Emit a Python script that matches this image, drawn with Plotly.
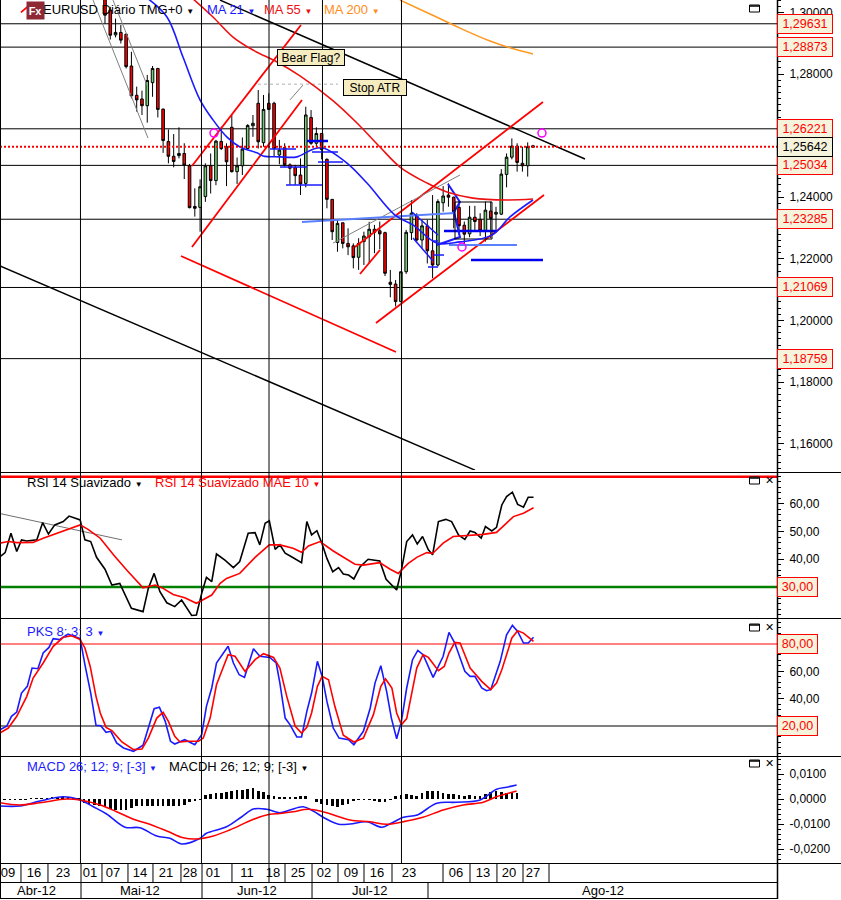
import plotly.graph_objects as go

# ---------- candles (bar index 0 = first visible bar)
opens = [1.3060,1.3008,1.2927,1.2935,1.2929,1.2826,1.2731,1.2719,1.2697,1.2772,1.2818,1.2686,1.2581,1.2533,1.2535,1.2542,1.2502,1.2370,1.2367,1.2402,1.2502,1.2454,1.2581,1.2564,1.2627,1.2483,1.2502,1.2558,1.2632,1.2705,1.2577,1.2705,1.2705,1.2537,1.2561,1.2505,1.2496,1.2472,1.2445,1.2659,1.2575,1.2607,1.2523,1.2393,1.2253,1.2317,1.2250,1.2242,1.2205,1.2256,1.2272,1.2296,1.2291,1.2285,1.2124,1.2118,1.2061,1.2158,1.2285,1.2342,1.2261,1.2307,1.2226,1.2180,1.2382,1.2407,1.2400,1.2367,1.2309,1.2281,1.2335,1.2328,1.2291,1.2355,1.2345,1.2345,1.2474,1.2530,1.2566,1.2510,1.2502,1.2567]
highs = [1.3080,1.3018,1.2980,1.2959,1.2932,1.2872,1.2759,1.2746,1.2797,1.2826,1.2820,1.2688,1.2620,1.2605,1.2627,1.2575,1.2508,1.2429,1.2458,1.2510,1.2542,1.2586,1.2629,1.2575,1.2667,1.2529,1.2594,1.2637,1.2667,1.2748,1.2732,1.2737,1.2710,1.2586,1.2575,1.2510,1.2505,1.2526,1.2694,1.2683,1.2627,1.2607,1.2526,1.2393,1.2328,1.2317,1.2299,1.2250,1.2267,1.2288,1.2320,1.2310,1.2321,1.2288,1.2164,1.2131,1.2158,1.2294,1.2391,1.2348,1.2326,1.2326,1.2407,1.2393,1.2436,1.2445,1.2402,1.2391,1.2321,1.2372,1.2372,1.2348,1.2386,1.2386,1.2369,1.2491,1.2542,1.2591,1.2575,1.2564,1.2578,1.2570]
lows = [1.2964,1.2912,1.2919,1.2899,1.2818,1.2721,1.2678,1.2667,1.2642,1.2726,1.2659,1.2544,1.2510,1.2497,1.2526,1.2459,1.2364,1.2337,1.2288,1.2385,1.2412,1.2439,1.2553,1.2436,1.2480,1.2443,1.2472,1.2555,1.2596,1.2558,1.2564,1.2683,1.2531,1.2507,1.2499,1.2440,1.2440,1.2407,1.2432,1.2570,1.2564,1.2523,1.2364,1.2261,1.2223,1.2234,1.2212,1.2169,1.2164,1.2180,1.2185,1.2218,1.2231,1.2144,1.2075,1.2045,1.2059,1.2151,1.2261,1.2256,1.2234,1.2185,1.2137,1.2175,1.2353,1.2369,1.2299,1.2277,1.2245,1.2270,1.2288,1.2274,1.2256,1.2267,1.2294,1.2342,1.2432,1.2523,1.2483,1.2483,1.2467,1.2561]
closes = [1.2991,1.2926,1.2935,1.2910,1.2824,1.2729,1.2716,1.2697,1.2779,1.2818,1.2685,1.2584,1.2533,1.2516,1.2542,1.2504,1.2366,1.2364,1.2434,1.2502,1.2454,1.2582,1.2558,1.2515,1.2483,1.2502,1.2556,1.2633,1.2640,1.2580,1.2685,1.2685,1.2558,1.2553,1.2505,1.2494,1.2470,1.2443,1.2667,1.2575,1.2607,1.2555,1.2393,1.2288,1.2315,1.2250,1.2239,1.2204,1.2250,1.2274,1.2296,1.2286,1.2281,1.2153,1.2117,1.2061,1.2158,1.2286,1.2348,1.2261,1.2307,1.2226,1.2180,1.2386,1.2404,1.2400,1.2353,1.2307,1.2280,1.2335,1.2321,1.2291,1.2358,1.2331,1.2351,1.2475,1.2530,1.2566,1.2513,1.2502,1.2564,1.2562]
bar_idx = list(range(len(closes)))

ma21_idx = [7.95,11.73,14.76,17.98,20.44,23.09,25.55,28.77,29.9,33.12,36.34,39.36,41.26,45.8,49.58,54.88,58.29,62.83,67.18,73.24,76.65,81]
ma21_val = [1.3047,1.2985,1.2855,1.2716,1.2651,1.2595,1.2563,1.2544,1.2534,1.2531,1.2531,1.2556,1.2560,1.2511,1.2446,1.2342,1.2310,1.2251,1.2255,1.2277,1.2336,1.2391]
ma55_idx = [16.46,20.44,24.22,28.0,32.55,36.9,42.96,47.69,52.04,55.83,60.94,64.72,69.64,76.08,81]
ma55_val = [1.3047,1.2985,1.2920,1.2878,1.2839,1.2794,1.2716,1.2641,1.2563,1.2498,1.2446,1.2417,1.2397,1.2391,1.2394]
ma200_idx = [55.83,61.5,67.18,72.86,76.65,81]
ma200_val = [1.3040,1.2995,1.2949,1.2907,1.2885,1.2865]

black_trend = [(21.76,1.3040,90.84,1.2524),(-19.87,1.2177,70.02,1.1514)]
red_trend = [(16.46,1.25013,37.09,1.29591),(16.46,1.22383,37.28,1.27156),(14.38,1.22091,55.07,1.18974),
             (47.31,1.22383,82.89,1.27091),(48.26,1.21506,52.04,1.22286),(51.29,1.19916,83.08,1.24072),(-15.9,1.3000,-13.8,1.3031)]
gray_trend = [(-2.27,1.3040,8.14,1.2592),(1.51,1.3040,7.95,1.2764),(43.15,1.2251,67.18,1.2472),(35.01,1.2716,37.47,1.2764)]
gray_dash = [(28.96,1.2767,44.1,1.2767)]
blue_thin = [(31.23,1.25565,36.15,1.25565),(33.12,1.24980,38.23,1.24980),(34.25,1.24396,41.07,1.24396),
             (39.18,1.25468,44.1,1.25468),(40.31,1.25143,45.04,1.25143),(58.1,1.23519,63.02,1.22772),
             (58.29,1.22675,62.07,1.21928),(62.07,1.22123,64.16,1.22123),(61.13,1.21734,63.02,1.21734),(61.88,1.22578,63.02,1.22578)]
blue_thick = [(38.23,1.25825,42.2,1.25825),(64.16,1.22902,74.18,1.22902),(69.27,1.21961,82.89,1.21961)]
blue_light = [(37.28,1.23195,66.24,1.23487),(65.1,1.22448,77.97,1.22448)]
flag_idx = [64.91,67.18,66.05,67.18,62.83]
flag_val = [1.24429,1.23844,1.23519,1.22708,1.22448]
box_idx = [66.24,73.24,73.24,66.24,66.24]
box_val = [1.23844,1.23844,1.22643,1.22643,1.23844]
circle_idx = [82.7,67.56,20.63]
circle_val = [1.26084,1.22383,1.26084]

level_prices = [1.29631,1.28873,1.26221,1.25034,1.23285,1.21069,1.18759]
level_text = ["1,29631","1,28873","1,26221","1,25034","1,23285","1,21069","1,18759"]
last_price = 1.25642

rsi_idx = [-19.9,-18.9,-17.8,-16.7,-15.8,-14.8,-12.9,-11.8,-10.7,-9.5,-7.9,-6.8,-4.7,-3.8,-2.7,-1.6,0,1.3,2.8,5,7.2,8.2,9.3,10.4,11.7,13.2,14.5,16.4,17.3,18.3,19.2,20.2,21.1,22.7,24.3,25.5,27.1,28.4,29.3,30.3,31.1,32.2,33.1,34.1,35.3,37.2,38.2,39.1,40.1,41.1,42,43.1,44.2,45.1,46.1,47.1,48.3,49.8,52,53.2,55.2,56.1,57.1,58.2,59.1,60.1,61.2,62,63.1,64.5,65.6,66.9,68.1,69.1,70,71.2,72,73.2,74.1,75.1,76,77.1,78.1,79.2,80.1,81.1]
rsi_val = [40.9,42.4,49.4,42.8,47,46.6,47,53.2,49.1,52.4,53.6,55.6,54.2,47,46.4,40.7,36.4,30.7,31.3,22.3,21.1,29.5,34.9,28.3,24.3,22.9,25.3,19.7,19.9,27.7,33.5,31.9,41.9,39.7,37,39.2,49.4,49.6,45.2,53,53.9,43.6,45.2,42.2,40.9,38.8,53.6,48.8,50.3,45.5,40.3,35.5,37,34.7,34.3,32.9,37.3,40,39.4,32.8,28.9,36.1,46.4,48.8,45.5,48.2,43.4,41.6,53.6,54.4,53.6,48.8,47.2,50.2,49.7,47.6,51.8,50.2,51.5,59.6,62.6,64.2,59.8,58.8,62.4,62.4]
rsi_ma_idx = [-19.9,-18.3,-16.7,-13.6,-11.7,-9.2,-6.6,-4.7,-3.2,-0.9,1.6,4.1,7.2,9.5,11,12.9,15.1,17.3,20.2,21.8,23,25.5,28.4,31.1,33.1,35.6,37.2,38.5,40.7,43.2,47.3,48.9,52,53.9,55.5,57.4,59,60.9,62,64,65.9,69.1,71.6,74.1,77.3,79.2,81.1]
rsi_ma_val = [45.8,46.4,46,46.1,47.6,49.4,51.2,52.4,50.8,47.6,41.6,36.1,29.7,30.7,29.5,27.3,26.1,24.1,27.1,31.3,33.1,34.9,40.7,45.2,45.2,44,42.5,44.8,46.4,43,38.2,37.9,38.8,36.5,34.9,38.5,40.7,42.4,42.1,45.8,48.2,48.5,49,49.7,55.4,56.6,58.6]
rsi_gray_idx = [-19.87,3.2]
rsi_gray_val = [56.5,47.0]

pks_idx = [-19.9,-18.6,-17.7,-16.7,-15.8,-14.7,-13.8,-12.7,-11.7,-10.6,-9.8,-8.6,-7,-4.7,-3.8,-2.7,-1.7,-0.8,0.2,1.1,2.2,3.5,5.4,7.2,8.2,9.3,10.3,11.4,12.4,13.2,15.1,17,18.3,19.2,20.2,21.1,23.3,24.3,25.4,26.4,28.1,29.3,31.2,32.4,33.1,34.1,35,36.3,37.2,38.2,39.1,40.2,41.1,42,43.2,44.3,46.1,47.1,48.9,50.2,51.1,52.2,53.3,54.2,55.2,56.1,57.1,58.2,59.2,60.2,62.1,64,65.1,66.2,68.1,69.1,70,71.3,72.2,73,74.8,76,77.1,78.1,79.2,80.1,81.1]
pks_val = [17.3,19.8,27.1,30.2,44.1,49,62.4,61.9,73.4,77.5,83.9,83.2,87.3,83.9,64.9,44.1,20.5,20.2,15.4,16.1,7.6,3.9,1.5,5.9,18.5,32.7,33.7,23.4,8.8,6.8,10,6.3,13.7,34.4,47.8,66.1,78.3,66.1,57.5,55.6,76.6,71,70.2,66.1,51.4,25.8,21,12,12,30.7,44.1,67.3,56.3,38,18.5,11.2,10,6.3,16.1,33.2,51.4,64.1,45.4,25.8,10.7,23.4,47.8,68.5,75.3,72.2,55.6,71,88.5,80.7,60,56.3,56.3,47.8,45.8,46.6,67.3,86.8,93.6,89.2,80.7,80.7,84.9]
pks_sig_idx = [-19.9,-18.3,-16.7,-14.8,-13.6,-11.7,-9.8,-7.9,-6.3,-4.7,-3.8,-2.8,-1.7,-0.9,0.2,1.3,3.2,5.4,7,8.2,9.8,11,12,13.2,14.2,15.8,17.7,18.6,19.9,21.1,23.3,24.6,26.5,28.4,30,31.9,33.1,34.4,36,37.2,38.2,39.1,40.2,41.1,42.3,43.5,45.1,47.1,48.9,50.8,52.2,53.1,54.3,55.2,56.1,57.1,59,60.2,61.2,63.1,64.2,65.1,66.2,67.2,69.1,71.3,73,74.1,75.1,77,78.1,79.2,81.1]
pks_sig_val = [14.9,18.5,27.1,41.7,55.1,66.1,78.3,84.9,86.1,83.2,77.1,63.6,41.7,29.5,19,16.6,8.3,2.7,3.2,11.2,25.8,30,23.4,12.4,8.3,8.8,8.8,11.2,25.8,50.2,72.2,71,60,68.5,72.9,70.2,62.4,41.7,19.8,14.9,19,29.5,49,56.3,53.9,34.4,13.2,8.3,11.2,28.3,49,54.4,47.8,29.5,21,25.4,62.4,72.2,70.2,60.5,63.6,73.4,81.2,80.7,62.4,52.7,46.6,51.4,61.2,84.4,89.7,88,81.9]

macd_idx = [-19.9,-16.1,-12.3,-7.9,-4.7,-2.2,0.3,3.8,6.6,9.8,12.3,14.5,18,19.2,23,25.9,28.1,30.6,33.1,35,37.5,39.4,41.6,44.2,46.4,49.5,52.4,53.9,56.5,59.1,62.8,66.5,71,74.1,76,77.9]
macd_val = [-.0028,-.0028,-.0008,.0009,-.0004,-.0031,-.0060,-.0113,-.0115,-.0148,-.0157,-.0180,-.0157,-.0137,-.0111,-.0071,-.0040,-.0041,-.0055,-.0044,-.0031,-.0048,-.0077,-.0101,-.0100,-.0091,-.0113,-.0100,-.0073,-.0064,-.0017,-.0013,-.0004,.0039,.0047,.0056]
macd_sig_idx = [-19.9,-16.1,-12.3,-7.3,-4.7,-0.9,2.2,5.4,7.9,11.7,14.8,17.3,20.5,23.6,28.1,31.2,33.1,35.6,38.5,41.6,46.4,50.2,53.3,57.1,60.2,64,67.8,71.6,74.1,77.9]
macd_sig_val = [-.0015,-.0024,-.0015,0,-.0004,-.0024,-.0051,-.0081,-.0097,-.0128,-.0155,-.0160,-.0148,-.0124,-.0081,-.0061,-.0058,-.0051,-.0041,-.0053,-.0084,-.0091,-.0101,-.0088,-.0073,-.0044,-.0024,-.0013,.0009,.0032]
macdh_idx = list(range(-19,-14)) + list(range(-14,79))
macdh_val = [-.0004,-.0004,-.0004,-.0003,-.0003,
             .0003,.0003,.0004,.0004,.0005,.0005,.0005,.0005,.0003,.0002,
             -.0016,-.0020,-.0023,-.0027,-.0033,-.0039,-.0043,-.0043,-.0043,-.0036,-.0029,-.0027,-.0027,-.0029,-.0029,-.0029,-.0027,-.0027,-.0029,-.0025,-.0013,-.0007,-.0003,
             .0016,.0019,.0023,.0025,.0027,.0032,.0035,.0036,.0040,.0043,.0033,.0029,.0016,.0012,.0008,
             .0005,.0009,.0009,.0012,.0012,0,-.0013,-.0021,-.0024,-.0027,-.0031,-.0024,-.0020,-.0005,-.0003,-.0003,-.0004,-.0008,-.0011,-.0011,-.0001,
             .0013,.0016,.0019,.0016,.0013,.0025,.0032,.0033,.0032,.0023,.0021,.0020,.0016,.0013,.0016,.0013,.0013,.0020,.0027,.0032,.0027,.0025,.0027,.0025]

day_idx = [-18.36,-13.44,-7.95,-2.84,1.51,6.62,11.54,16.09,20.44,26.87,31.79,36.53,41.45,46.55,51.48,57.53,66.43,71.54,76.46,81.0]
day_text = ["09","16","23","01","07","14","21","28","01","11","18","25","02","09","16","23","06","13","20","27"]
day_sep_idx = [-15.9,-10.79,-4.54,-0.57,4.35,9.08,14.38,18.36,24.03,31.04,34.07,39.18,44.1,49.02,54.32,63.97,69.08,74.18,79.11,84.03]
month_text = ["Abr-12","Mai-12","Jun-12","Jul-12","Ago-12"]
month_center_idx = [-12.9,6.6,28.7,50.0,94.2]
month_sep_idx = [-4.54,18.36,39.18,61.13]
grid_idx = [-4.64,18.26,31.04,41.16,56.11]

W, H = 841, 900
AX = 777
def fx(px): return px / W
def fy(px): return 1 - px / H

FONT = "Liberation Sans"
fig = go.Figure()

GREEN = "#74cc74"
fig.add_trace(go.Candlestick(x=bar_idx, open=opens, high=highs, low=lows, close=closes, yaxis="y",
    whiskerwidth=0,
    increasing=dict(line=dict(color="black", width=1), fillcolor=GREEN),
    decreasing=dict(line=dict(color="black", width=1), fillcolor="#ff0000")))

def seg(lst, color, width, dash="solid"):
    for a, b, c, d in lst:
        fig.add_trace(go.Scatter(x=[a, c], y=[b, d], mode="lines", yaxis="y",
                                 line=dict(color=color, width=width, dash=dash)))

seg(black_trend, "black", 1.5)
seg(red_trend, "#ff0000", 1.8)
seg(gray_trend, "#808080", 1)
seg(gray_dash, "#b0b0b0", 1, "dot")
seg(blue_light, "#5a80ff", 2)
seg(blue_thin, "#1a1aff", 1.5)
seg(blue_thick, "#0000ee", 2.5)
fig.add_trace(go.Scatter(x=flag_idx, y=flag_val, mode="lines", yaxis="y", line=dict(color="#1a1aff", width=2)))
fig.add_trace(go.Scatter(x=box_idx, y=box_val, mode="lines", yaxis="y", line=dict(color="black", width=1)))
fig.add_trace(go.Scatter(x=ma21_idx, y=ma21_val, mode="lines", yaxis="y", line=dict(color="#1a1aff", width=1.6, shape="spline")))
fig.add_trace(go.Scatter(x=ma55_idx, y=ma55_val, mode="lines", yaxis="y", line=dict(color="#ee1111", width=1.6, shape="spline")))
fig.add_trace(go.Scatter(x=ma200_idx, y=ma200_val, mode="lines", yaxis="y", line=dict(color="#ff9922", width=1.6, shape="spline")))
fig.add_trace(go.Scatter(x=circle_idx, y=circle_val, mode="markers", yaxis="y",
                         marker=dict(symbol="circle-open", size=8, color="#ff00ff", line=dict(width=1.5, color="#ff00ff"))))

fig.add_trace(go.Scatter(x=rsi_gray_idx, y=rsi_gray_val, mode="lines", yaxis="y2", line=dict(color="#707070", width=1)))
fig.add_trace(go.Scatter(x=rsi_idx, y=rsi_val, mode="lines", yaxis="y2", line=dict(color="black", width=1.6)))
fig.add_trace(go.Scatter(x=rsi_ma_idx, y=rsi_ma_val, mode="lines", yaxis="y2", line=dict(color="#ff0000", width=1.6)))
fig.add_trace(go.Scatter(x=pks_idx, y=pks_val, mode="lines", yaxis="y3", line=dict(color="#1a1aff", width=1.6)))
fig.add_trace(go.Scatter(x=pks_sig_idx, y=pks_sig_val, mode="lines", yaxis="y3", line=dict(color="#ff0000", width=1.6)))
fig.add_trace(go.Bar(x=macdh_idx, y=macdh_val, yaxis="y4", width=0.5, marker=dict(color="black", line=dict(width=0))))
fig.add_trace(go.Scatter(x=macd_idx, y=macd_val, mode="lines", yaxis="y4", line=dict(color="#1a1aff", width=1.6, shape="spline")))
fig.add_trace(go.Scatter(x=macd_sig_idx, y=macd_sig_val, mode="lines", yaxis="y4", line=dict(color="#ff0000", width=1.6, shape="spline")))

shapes = []
def hline_paper(px, x0=0, x1=W, w=1, c="black"):
    shapes.append(dict(type="line", xref="paper", yref="paper", x0=fx(x0), x1=fx(x1), y0=fy(px), y1=fy(px),
                       line=dict(color=c, width=w), layer="above"))
for p in level_prices:
    shapes.append(dict(type="line", xref="paper", yref="y", x0=0, x1=fx(AX), y0=p, y1=p, line=dict(color="black", width=1), layer="below"))
shapes.append(dict(type="line", xref="paper", yref="y", x0=0, x1=fx(AX), y0=last_price, y1=last_price,
                   line=dict(color="#ff0000", width=2, dash="2px,2px"), layer="above"))
shapes.append(dict(type="line", xref="paper", yref="y2", x0=0, x1=fx(AX), y0=69.8, y1=69.8, line=dict(color="#ff0000", width=2.5), layer="below"))
shapes.append(dict(type="line", xref="paper", yref="y2", x0=0, x1=fx(AX), y0=30, y1=30, line=dict(color="#008000", width=2.5), layer="below"))
shapes.append(dict(type="line", xref="paper", yref="y3", x0=0, x1=fx(AX), y0=80, y1=80, line=dict(color="#ff0000", width=1), layer="below"))
shapes.append(dict(type="line", xref="paper", yref="y3", x0=0, x1=fx(AX), y0=20, y1=20, line=dict(color="black", width=1), layer="below"))
for g in grid_idx:
    shapes.append(dict(type="line", xref="x", yref="paper", x0=g, x1=g, y0=fy(863), y1=1, line=dict(color="black", width=1), layer="above"))
for g in day_sep_idx:
    shapes.append(dict(type="line", xref="x", yref="paper", x0=g, x1=g, y0=fy(882), y1=fy(864), line=dict(color="black", width=1), layer="above"))
for g in month_sep_idx:
    shapes.append(dict(type="line", xref="x", yref="paper", x0=g, x1=g, y0=fy(899), y1=fy(882), line=dict(color="black", width=1), layer="above"))
for py_ in (472.5, 618.5, 756.5, 863.5):
    hline_paper(py_)
hline_paper(882.5, 0, AX)
hline_paper(898.5, 0, AX)
shapes.append(dict(type="line", xref="paper", yref="paper", x0=fx(0.5), x1=fx(0.5), y0=fy(899), y1=1, line=dict(color="black", width=1), layer="above"))
shapes.append(dict(type="line", xref="paper", yref="paper", x0=fx(AX+0.5), x1=fx(AX+0.5), y0=fy(899), y1=1, line=dict(color="black", width=1.5), layer="above"))
# window icons
for top in (5, 477, 624, 760):
    shapes.append(dict(type="rect", xref="paper", yref="paper", x0=fx(749.5), x1=fx(759.5), y0=fy(top+7), y1=fy(top),
                       line=dict(color="black", width=1), fillcolor="white", layer="above"))
    shapes.append(dict(type="line", xref="paper", yref="paper", x0=fx(749.5), x1=fx(759.5), y0=fy(top+1), y1=fy(top+1),
                       line=dict(color="black", width=1.5), layer="above"))

ann = []
def label(px, py, text, color="black", size=13, **kw):
    ann.append(dict(xref="paper", yref="paper", x=fx(px), y=fy(py), text=text, showarrow=False, xanchor="left", yanchor="middle",
                    font=dict(family=FONT, size=size, color=color), **kw))
ARW = "<span style='font-size:8px'>▼</span>"
label(41, 10, "EURUSD Diário TMG+0 " + ARW)
label(205, 10, "MA 21 " + ARW, "#1a1aff")
label(262, 10, "MA 55 " + ARW, "#ee1111")
label(322, 10, "MA 200 " + ARW, "#ff8c1a")
label(25, 482, "RSI 14 Suavizado " + ARW)
label(153, 482, "RSI 14 Suavizado MAE 10 " + ARW, "#ff0000")
label(25, 631, "PKS 8; 3; 3 " + ARW, "#1a1aff")
label(25, 766, "MACD 26; 12; 9; [-3] " + ARW, "#1a1aff")
label(167, 766, "MACDH 26; 12; 9; [-3] " + ARW)
ann.append(dict(xref="paper", yref="paper", x=fx(35), y=fy(10.5), text="<b>Fx</b>", showarrow=False, bgcolor="#8e2a36",
                font=dict(family=FONT, size=11, color="white"), width=15, height=15, xanchor="center", yanchor="middle"))
for t, cx, cy, w in (("Bear Flag?", 311, 58, 66), ("Stop ATR", 375, 88, 62)):
    ann.append(dict(xref="paper", yref="paper", x=fx(cx), y=fy(cy), text=t, showarrow=False, bgcolor="#f5ecc0", bordercolor="black",
                    borderwidth=1, borderpad=0, width=w, height=15, xanchor="center", yanchor="middle",
                    font=dict(family=FONT, size=12, color="black")))
for t, i in zip(month_text, month_center_idx):
    ann.append(dict(xref="x", yref="paper", x=i, y=fy(890.5), text=t, showarrow=False, xanchor="center", yanchor="middle",
                    font=dict(family=FONT, size=13, color="black")))
def tag(yref, val, text, w, color="#ff0000"):
    ann.append(dict(xref="paper", yref=yref, x=fx(AX), y=val, text=text, showarrow=False, xanchor="left", yanchor="middle",
                    bgcolor="#f6f3dc", bordercolor=color, borderwidth=1, borderpad=0, width=w, height=18,
                    font=dict(family=FONT, size=12.5, color=color if color != "black" else "black")))
for p, t in zip(level_prices, level_text):
    tag("y", p, t, 54)
tag("y", last_price, "1,25642", 54, "black")
tag("y2", 30, "30,00", 39)
tag("y3", 80, "80,00", 39)
tag("y3", 20, "20,00", 39)
for top in (5, 477, 624, 760):
    if top == 5:
        continue
    ann.append(dict(xref="paper", yref="paper", x=fx(769.5), y=fy(top+3.5), text="<b>✕</b>", showarrow=False,
                    xanchor="center", yanchor="middle", font=dict(family="DejaVu Sans", size=11, color="black")))

def yax(top, bot, rng, vals, text, minor):
    return dict(domain=[fy(bot), fy(top)], range=rng, side="right", anchor="x", showgrid=False, zeroline=False, fixedrange=True,
                showline=False, ticks="outside", ticklen=6, tickcolor="black", tickwidth=1, tickvals=vals, ticktext=text,
                ticklabelstandoff=3, tickfont=dict(family=FONT, size=12, color="black"),
                minor=dict(ticks="outside", ticklen=3, tickcolor="black", tickwidth=1, dtick=minor, showgrid=False))

fig.update_layout(
    width=W, height=H, margin=dict(l=0, r=0, t=0, b=0), paper_bgcolor="white", plot_bgcolor="white",
    showlegend=False, bargap=0, barmode="overlay",
    xaxis=dict(domain=[0, fx(AX)], range=[-19.87, 127.18], anchor="y4", showgrid=False, zeroline=False, fixedrange=True,
               rangeslider=dict(visible=False), tickmode="array", tickvals=day_idx, ticktext=day_text, ticks="",
               ticklabelstandoff=0, tickfont=dict(family=FONT, size=13, color="black"), showline=False),
    yaxis=yax(0, 470, [1.15143, 1.30403], [1.16,1.18,1.20,1.22,1.24,1.28,1.30],
              ["1,16000","1,18000","1,20000","1,22000","1,24000","1,28000","1,30000"], 0.002),
    yaxis2=yax(472, 618, [18.8, 71.5], [40,50,60], ["40,00","50,00","60,00"], 2),
    yaxis3=yax(619, 756, [-1.95, 98.3], [40,60], ["40,00","60,00"], 4),
    yaxis4=yax(757, 863, [-0.0256, 0.0168], [-0.02,-0.01,0,0.01], ["-0,0200","-0,0100","0,0000","0,0100"], 0.002),
    shapes=shapes, annotations=ann,
)
fig.write_html("out.html", config={"displayModeBar": False},
               post_script="document.body.style.margin='0';document.body.style.overflow='hidden';")
